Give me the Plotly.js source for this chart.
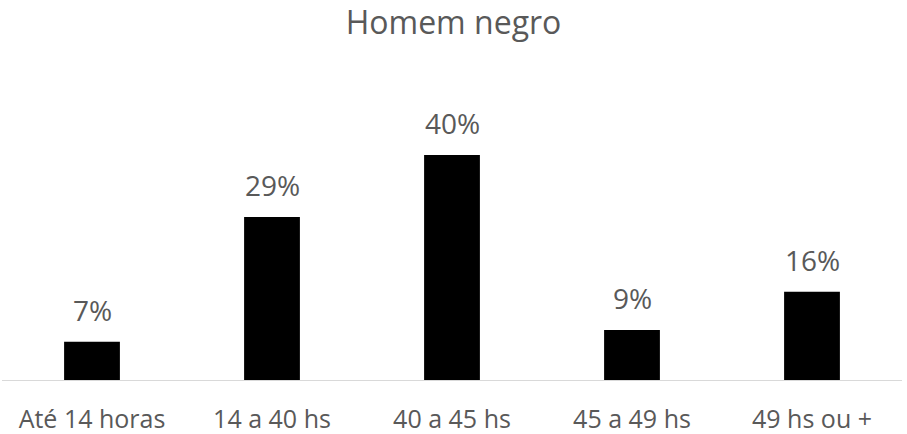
<!DOCTYPE html>
<html><head><meta charset="utf-8">
<script src="https://cdn.plot.ly/plotly-3.0.1.min.js"></script>
<style>html,body{margin:0;padding:0;background:#fff}#chart{width:907px;height:434px}</style>
</head><body><div id="chart"></div>
<script>
const categories = ["Até 14 horas", "14 a 40 hs", "40 a 45 hs", "45 a 49 hs", "49 hs ou +"];
const values = [0.068, 0.29, 0.40, 0.089, 0.157];
const chartTitle = "Homem negro";

const FONT = "Open Sans, Noto Sans, sans-serif";
const GREY = "#595959";

const trace = {
  type: "bar",
  x: categories,
  y: values,
  marker: {color: "#000000", line: {width: 0}},
  width: 0.31,
  hoverinfo: "skip"
};

const annotations = categories.map((c, i) => ({
  x: c, y: values[i], xref: "x", yref: "y",
  text: Math.round(values[i] * 100) + "%",
  showarrow: false, yanchor: "bottom", yshift: 11,
  font: {family: FONT, size: 28, color: GREY}
}));

const layout = {
  width: 907, height: 434,
  margin: {l: 2, r: 5, t: 127, b: 54},
  paper_bgcolor: "#ffffff", plot_bgcolor: "#ffffff",
  title: {text: chartTitle, x: 0.5, xanchor: "center", yref: "container", y: 0.947, yanchor: "middle",
          font: {family: FONT, size: 32, color: GREY}},
  showlegend: false,
  xaxis: {showgrid: false, showline: true, linecolor: "#d9d9d9", linewidth: 1, ticks: "",
          tickfont: {family: FONT, size: 25, color: GREY}, ticklabelstandoff: 17, fixedrange: true, zeroline: false},
  yaxis: {range: [0, 0.45], showgrid: false, showticklabels: false, zeroline: false, showline: false, fixedrange: true},
  annotations: annotations
};

Plotly.newPlot("chart", [trace], layout, {displayModeBar: false, staticPlot: true});
</script></body></html>
